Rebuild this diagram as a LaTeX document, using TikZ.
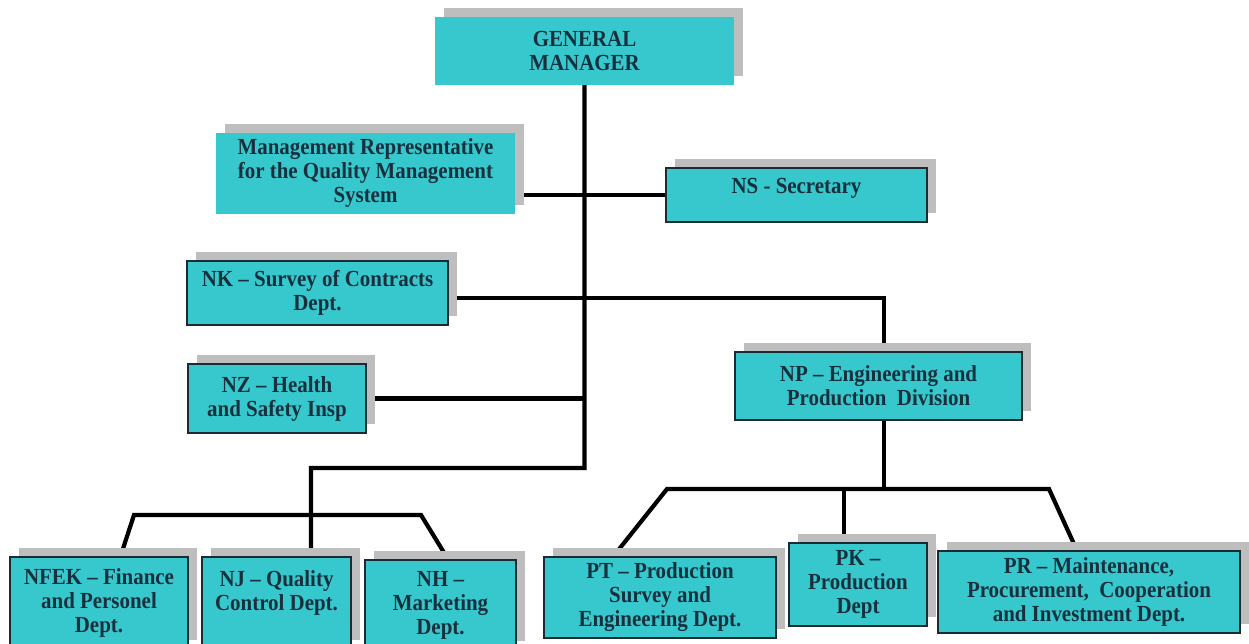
\documentclass[tikz,border=0pt]{standalone}
\usepackage{fontspec}
\setmainfont[FakeStretch=0.91]{Liberation Serif}
\usepackage{xcolor}
\usetikzlibrary{calc,shadows,backgrounds}
\definecolor{boxcyan}{HTML}{36C8CC}
\definecolor{ink}{HTML}{16303E}
\definecolor{frame}{HTML}{1C2A33}
\definecolor{shade}{HTML}{BEBEBE}
\tikzset{
  font=\bfseries\fontsize{23}{24}\selectfont,
  unit/.style={
    fill=boxcyan, text=ink, align=center, inner sep=0pt,
    drop shadow={shadow xshift=9pt, shadow yshift=9pt, fill=shade, opacity=1}
  },
  framed/.style={unit, draw=frame, line width=1.3pt},
  link/.style={draw=black, line width=4.2pt}
}

\begin{document}
\begin{tikzpicture}[x=1pt,y=-1pt]
  \useasboundingbox (0,0) rectangle (1249,644);
  \clip (0,0) rectangle (1249,644);

  % top level
  \node[unit, minimum width=299, minimum height=68] (gm) at (584.5,51) {GENERAL\\MANAGER};
  \node[unit, minimum width=299, minimum height=81] (mr) at (365.5,173.5) {Management Representative\\for the Quality Management\\System};
  \node[framed, minimum width=261, minimum height=54] (ns) at (796.5,195) {\raisebox{7pt}[\height][\depth]{NS - Secretary}};
  \node[framed, minimum width=261, minimum height=64] (nk) at (317.5,293) {NK -- Survey of Contracts\\Dept.};
  \node[framed, minimum width=178, minimum height=69] (nz) at (277,398.5) {NZ -- Health\\and Safety Insp};
  \node[framed, minimum width=287, minimum height=68] (np) at (878.5,386) {NP -- Engineering and\\Production\ \ Division};

  % departments
  \node[framed, minimum width=178, minimum height=92] (nfek) at (99,603)    {NFEK -- Finance\\and Personel\\Dept.};
  \node[framed, minimum width=149, minimum height=92] (nj)   at (276.5,603) {NJ -- Quality\\Control Dept.\\\mbox{}};
  \node[framed, minimum width=151, minimum height=90] (nh)   at (440.5,605) {NH --\\Marketing\\Dept.};
  \node[framed, minimum width=232, minimum height=81] (pt)   at (660,597.5) {PT -- Production\\Survey and\\Engineering Dept.};
  \node[framed, minimum width=138, minimum height=83] (pk)   at (858,584.5) {PK --\\Production\\Dept};
  \node[framed, minimum width=302, minimum height=82] (pr)   at (1089,592)  {PR -- Maintenance,\\Procurement,\ \ Cooperation\\and Investment Dept.};

  % joints
  \coordinate (hub)  at (584.5,468);
  \coordinate (lbar) at (311,468);
  \coordinate (la)   at (134,515);
  \coordinate (lb)   at (421,515);
  \coordinate (ra)   at (667,489);
  \coordinate (rb)   at (1049,489);
  \coordinate (npt)  at ($(np.north west)!0.52!(np.north east)$);
  \coordinate (npb)  at ($(np.south west)!0.52!(np.south east)$);
  \coordinate (pkt)  at ($(pk.north west)!0.4!(pk.north east)$);
  \coordinate (njt)  at ($(nj.north west)!0.73!(nj.north east)$);

  % lines
  \begin{scope}[on background layer]
    \draw[link] (gm.south) -- (hub) -- (lbar) -- (njt);
    \draw[link] (ns.west -| mr.east) -- (ns.west);
    \draw[link] ([yshift=-5pt]nk.east) -| (npt);
    \draw[link] (nz.east) -- (nz.east -| hub);
    \draw[link] ($(nfek.north west)!0.62!(nfek.north east)$) -- (la) -- (lb) -- ($(nh.north west)!0.55!(nh.north east)$);
    \draw[link] (npb) -- (npb |- ra);
    \draw[link] ($(pt.north west)!0.3!(pt.north east)$) -- (ra) -- (rb) -- ($(pr.north west)!0.46!(pr.north east)$);
    \draw[link] (pkt) -- (pkt |- ra);
  \end{scope}
\end{tikzpicture}
\end{document}
